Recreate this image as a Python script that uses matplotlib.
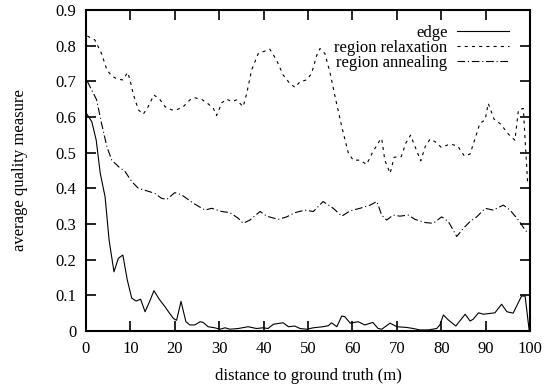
import matplotlib
matplotlib.use("Agg")
import matplotlib.pyplot as plt

plt.rcParams['font.family'] = ['Liberation Serif', 'DejaVu Serif']
plt.rcParams['lines.scale_dashes'] = False

edge_x = [0, 1.3, 2.3, 3.2, 4.3, 5.2, 6.3, 7.3, 8.3, 9.3, 10.3, 11.3, 12.3, 13.3, 14.3, 15.3, 16.5, 17.8, 18.8, 19.7,
          20.4, 21.4, 22.5, 23.4, 24.5, 25.7, 26.4, 27.5, 29, 30.2, 31.3, 32.4, 34.3, 36.5, 38.4, 39.9, 41, 42.2, 44.4, 45.6,
          47, 48.2, 49.7, 51.2, 53.4, 54.6, 55.3, 56.5, 57.6, 58.3, 59.5, 61.3, 62.8, 64.6, 65.8, 66.6, 68.5, 70, 72.2, 73.7,
          75.2, 77.1, 79, 79.7, 80.5, 81.6, 83.3, 85.4, 86.5, 87.2, 88.4, 89.5, 92.1, 93.6, 94.8, 96.2, 98.1, 98.9, 99.8]
edge_y = [0.612, 0.587, 0.535, 0.443, 0.376, 0.255, 0.166, 0.204, 0.213, 0.143, 0.092, 0.084, 0.089, 0.054, 0.082, 0.113, 0.089, 0.068, 0.050, 0.035,
          0.030, 0.083, 0.026, 0.017, 0.017, 0.026, 0.024, 0.012, 0.009, 0.005, 0.009, 0.005, 0.007, 0.012, 0.007, 0.009, 0.007, 0.019, 0.023, 0.012,
          0.014, 0.007, 0.005, 0.009, 0.012, 0.015, 0.023, 0.012, 0.042, 0.040, 0.022, 0.026, 0.017, 0.024, 0.007, 0.005, 0.022, 0.012, 0.010, 0.007,
          0.003, 0.003, 0.007, 0.017, 0.045, 0.031, 0.014, 0.047, 0.028, 0.033, 0.051, 0.047, 0.051, 0.075, 0.054, 0.050, 0.098, 0.098, 0.003]

relax_x = [0.3, 2, 3.5, 4.7, 5.8, 7.1, 8.3, 9.4, 9.9, 10.7, 11.8, 12.9, 14, 15.3, 16.7, 17.8, 19.3, 20.4, 21.9, 23.4,
           24.5, 26.1, 27.6, 28.7, 29.4, 30.6, 31.7, 32.8, 33.9, 35.4, 36.2, 37.3, 38.8, 39.9, 41.4, 42.9, 44.4, 45.9, 47.1, 48.2,
           49.7, 50.8, 52, 52.7, 53.8, 55, 56.1, 57.6, 59.1, 60.2, 61.7, 63.2, 64.5, 66.2, 66.6, 67.3, 68.5, 69.4, 71, 72,
           73.1, 74.1, 75.4, 76.4, 77.5, 78.6, 80, 82, 83.7, 85.2, 86.5, 88, 88.7, 89.9, 90.6, 91.9, 93.4, 95.2, 96.6, 97.4,
           98.5, 98.9, 99.5]
relax_y = [0.827, 0.816, 0.778, 0.732, 0.715, 0.706, 0.704, 0.725, 0.704, 0.662, 0.620, 0.608, 0.629, 0.662, 0.648, 0.629, 0.620, 0.620, 0.629, 0.648,
           0.654, 0.649, 0.636, 0.624, 0.604, 0.640, 0.650, 0.643, 0.648, 0.629, 0.666, 0.732, 0.778, 0.783, 0.790, 0.760, 0.718, 0.694, 0.683, 0.699,
           0.704, 0.722, 0.774, 0.792, 0.778, 0.722, 0.657, 0.573, 0.498, 0.479, 0.479, 0.467, 0.500, 0.535, 0.540, 0.479, 0.442, 0.487, 0.489, 0.526,
           0.549, 0.517, 0.477, 0.517, 0.538, 0.531, 0.515, 0.524, 0.519, 0.491, 0.496, 0.554, 0.582, 0.592, 0.638, 0.594, 0.580, 0.551, 0.535, 0.620,
           0.624, 0.535, 0.41]

anneal_x = [0.3, 2.4, 3.5, 4.7, 5.8, 7.3, 8.8, 10.3, 11.8, 13.7, 15.5, 17, 18.2, 20, 21.5, 24.2, 26.8, 28.3, 30.6, 32.4,
            34.3, 35.4, 36.9, 39.2, 40.7, 43.3, 45.2, 47.1, 49.3, 51.2, 53.4, 55.7, 57.6, 59.5, 61.7, 64, 65.5, 66.6, 67.7, 69.2,
            70.7, 72.6, 74.1, 76.4, 78.2, 80.1, 81.6, 83.5, 85, 86.5, 88, 89.9, 91.7, 94, 95.5, 97.4, 98.9, 99.5]
anneal_y = [0.700, 0.648, 0.582, 0.517, 0.479, 0.461, 0.447, 0.419, 0.400, 0.393, 0.386, 0.372, 0.369, 0.388, 0.382, 0.358, 0.339, 0.344, 0.335, 0.332,
            0.316, 0.302, 0.311, 0.335, 0.322, 0.313, 0.320, 0.332, 0.339, 0.335, 0.363, 0.344, 0.322, 0.337, 0.344, 0.353, 0.363, 0.325, 0.311, 0.325,
            0.322, 0.325, 0.313, 0.304, 0.302, 0.320, 0.307, 0.265, 0.288, 0.307, 0.320, 0.344, 0.339, 0.353, 0.339, 0.311, 0.283, 0.275]

labels = ["edge", "region relaxation", "region annealing"]
x_ticks = [0, 10, 20, 30, 40, 50, 60, 70, 80, 90, 100]
y_ticks = [0, 0.1, 0.2, 0.3, 0.4, 0.5, 0.6, 0.7, 0.8, 0.9]
y_tick_labels = ["0", "0.1", "0.2", "0.3", "0.4", "0.5", "0.6", "0.7", "0.8", "0.9"]

fs = 12
fig = plt.figure(figsize=(5.45, 3.87), dpi=100)
ax = fig.add_axes([86/545, 1 - 331/387, 444/545, 321/387])

lw = 0.8
ax.plot(edge_x, edge_y, color='black', lw=lw, label=labels[0])
ax.plot(relax_x, relax_y, color='black', lw=lw, dashes=(2.2, 3.0), label=labels[1])
ax.plot(anneal_x, anneal_y, color='black', lw=lw, dashes=(5.5, 2.0, 0.8, 2.0), label=labels[2])

ax.set_xlim(0, 100)
ax.set_ylim(0, 0.9)
ax.set_xticks(x_ticks)
ax.set_yticks(y_ticks)
ax.set_yticklabels(y_tick_labels)
ax.tick_params(direction='in', length=7, width=1.2, top=True, right=True, labelsize=fs, pad=7, color='black')
for s in ax.spines.values():
    s.set_linewidth(1.5)

ax.set_xlabel("distance to ground truth (m)", fontsize=fs, labelpad=8)
ax.set_ylabel("average quality measure", fontsize=fs, labelpad=20)

ax.legend(loc='upper right', bbox_to_anchor=(0.968, 0.975), frameon=False, markerfirst=False,
          fontsize=fs, handlelength=3.1, handletextpad=0.6, labelspacing=-0.05, borderaxespad=0.0)

fig.savefig("out.png", dpi=100)
